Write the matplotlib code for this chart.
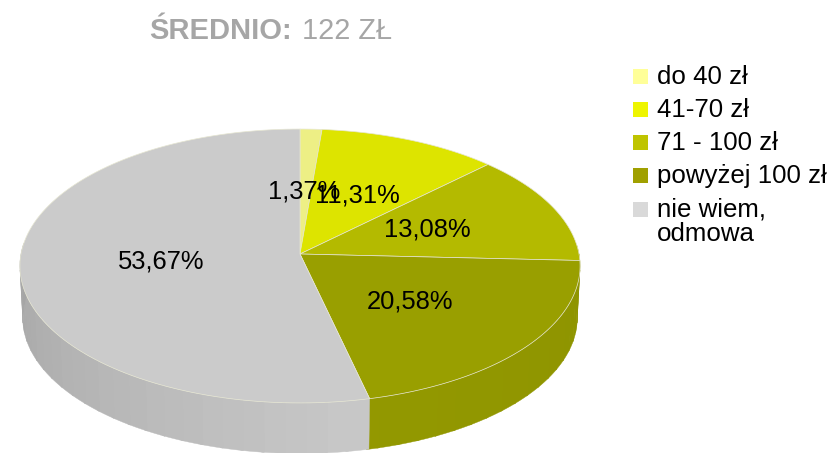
import matplotlib
matplotlib.use('Agg')
import matplotlib.pyplot as plt
from matplotlib.patches import Rectangle
import numpy as np

plt.rcParams['font.family'] = ['Liberation Sans', 'DejaVu Sans']

# dane
categories = ['do 40 zł', '41-70 zł', '71 - 100 zł', 'powyżej 100 zł', 'nie wiem,\nodmowa']
values = [1.37, 11.31, 13.08, 20.58, 53.67]
value_labels = ['1,37%', '11,31%', '13,08%', '20,58%', '53,67%']
top_colors = ['#EDEF85', '#DDE400', '#B4BA00', '#999F00', '#CBCBCB']
legend_colors = ['#FFFF99', '#EEF500', '#BFC400', '#A0A000', '#D9D9D9']
label_pos = [(304, 191), (357, 196), (427, 230), (410, 302), (161, 262)]

# geometria "3D" w pikselach
cx, cy = 300, 254
A, D, K = 279, 135.9, 0.0876
depth = 52


def project(theta, dy=0, scale=1.0):
    # theta w stopniach, zgodnie z zegarem od góry
    t = np.radians(theta)
    X, Y = np.sin(t), np.cos(t)
    w = 1 + K * Y
    return cx + scale * A * X / w, cy + dy + scale * D * Y * -1 / w


def shade(color, f):
    rgb = np.array(matplotlib.colors.to_rgb(color)) * f
    return tuple(np.clip(rgb, 0, 1))


fig = plt.figure(figsize=(8.33, 4.53), dpi=100)
ax = fig.add_axes([0, 0, 1, 1])
ax.set_xlim(0, 833)
ax.set_ylim(453, 0)
ax.axis('off')

edges = np.concatenate([[0], np.cumsum(values)]) / sum(values) * 360

# ściana boczna
for i in range(len(values)):
    start = max(edges[i], 86)
    end = min(edges[i + 1], 274)
    if end <= start:
        continue
    steps = np.arange(start, end, 4.0)
    for s in steps:
        e = min(s + 4.0, end)
        th = np.linspace(s, e + 0.5, 6)
        x1, y1 = project(th)
        x2, y2 = project(th[::-1], depth, 0.99)
        # od lewej ciemniej, z przodu jaśniej
        if i == 4:
            f = 0.98 - 0.17 * (np.clip(s, 170, 274) - 170) / 104
        else:
            f = 0.93 + 0.03 * (s - 90) / 80
        ax.fill(np.r_[x1, x2], np.r_[y1, y2], color=shade(top_colors[i], f), lw=0.3)

# góra
for i in range(len(values)):
    th = np.linspace(edges[i], edges[i + 1], 120)
    x, y = project(th)
    ax.fill(np.r_[cx, x], np.r_[cy, y], facecolor=top_colors[i],
            edgecolor='#E6E6D2', lw=0.5, joinstyle='round')

for i, lab in enumerate(value_labels):
    ax.text(label_pos[i][0], label_pos[i][1], lab, fontsize=18.4, color='black',
            ha='center', va='center')

# legenda
legend_y = [76, 109, 142, 175, 209]
for i, name in enumerate(categories):
    ax.add_patch(Rectangle((633, legend_y[i] - 7.5), 15, 15, facecolor=legend_colors[i], edgecolor='none'))
    ax.text(657, legend_y[i] - 11, name, fontsize=18.6, color='black', ha='left', va='top',
            linespacing=1.02)

# tytuł
title_color = '#A6A6A6'
ax.text(149, 31, 'ŚREDNIO:', fontsize=21, fontweight='bold', color=title_color, ha='left', va='center')
ax.text(302, 31, '122 ZŁ', fontsize=20.8, color=title_color, ha='left', va='center')

fig.savefig('out.png', dpi=100)
